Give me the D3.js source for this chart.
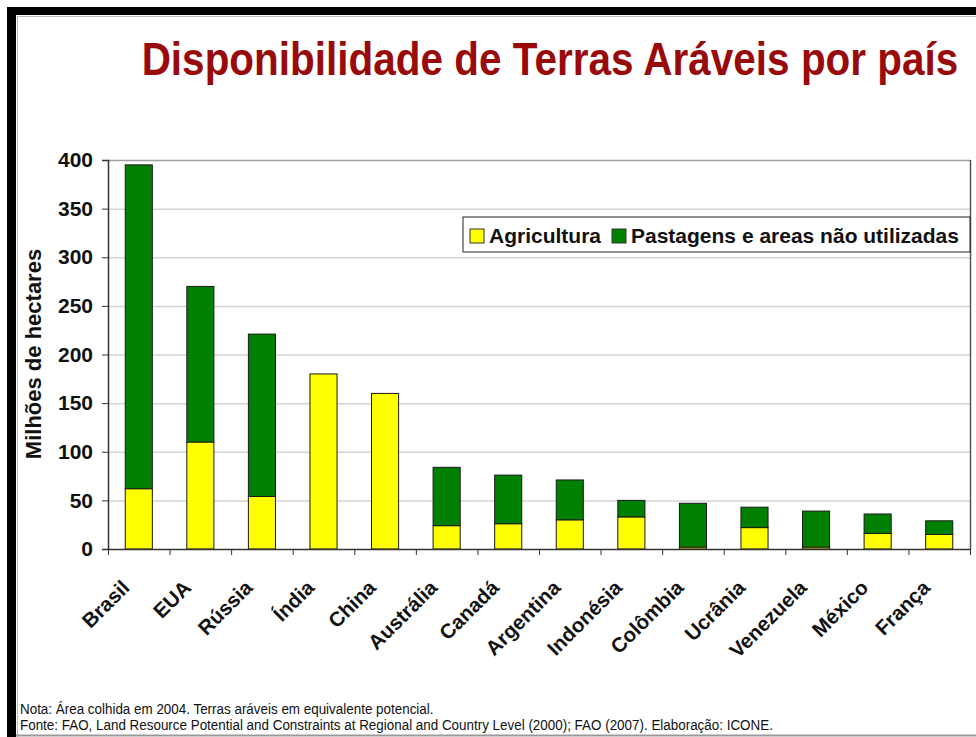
<!DOCTYPE html>
<html>
<head>
<meta charset="utf-8">
<script src="https://cdn.jsdelivr.net/npm/d3@7"></script>
<style>
  body { margin: 0; background: #fff; }
  svg { display: block; }
</style>
</head>
<body>
<div id="viz"></div>
<script>
const categories = ["Brasil", "EUA", "Rússia", "Índia", "China", "Austrália", "Canadá",
  "Argentina", "Indonésia", "Colômbia", "Ucrânia", "Venezuela", "México", "França"];
const agricultura = [62, 110, 54, 180, 160, 24, 26, 30, 33, 2, 22, 2, 16, 15];
const pastagens = [333, 160, 167, 0, 0, 60, 50, 41, 17, 45, 21, 37, 20, 14];
const seriesNames = ["Agricultura", "Pastagens e areas não utilizadas"];
const seriesColors = ["#ffff00", "#008000"];
const yTicks = [0, 50, 100, 150, 200, 250, 300, 350, 400];

const W = 976, H = 737;
const plot = { left: 108, right: 970, top: 160, bottom: 549 };
const font = "Liberation Sans, Arial, sans-serif";

const svg = d3.select("#viz").append("svg")
  .attr("width", W)
  .attr("height", H);

// frame of the slide
svg.append("rect").attr("x", 7).attr("y", 7).attr("width", W - 7).attr("height", 8).attr("fill", "#000");
svg.append("rect").attr("x", 7).attr("y", 7).attr("width", 9).attr("height", H - 7).attr("fill", "#000");
svg.append("line").attr("x1", 17).attr("x2", W).attr("y1", 16.5).attr("y2", 16.5).attr("stroke", "#bbb");
svg.append("line").attr("x1", 17.5).attr("x2", 17.5).attr("y1", 16).attr("y2", H).attr("stroke", "#bbb");
svg.append("line").attr("x1", 16).attr("x2", W).attr("y1", 735.5).attr("y2", 735.5).attr("stroke", "#999").attr("stroke-width", 2);

// title
svg.append("text")
  .attr("transform", "translate(550,75) scale(1,1.12)")
  .attr("text-anchor", "middle")
  .style("font-family", font)
  .style("font-size", "40.5px")
  .style("font-weight", "bold")
  .style("fill", "#990b0b")
  .text("Disponibilidade de Terras Aráveis por país");

const x = d3.scaleBand()
  .domain(categories)
  .range([plot.left, plot.right])
  .paddingInner(0.56)
  .paddingOuter(0.28);

const y = d3.scaleLinear()
  .domain([0, 400])
  .range([plot.bottom, plot.top]);

// gridlines
svg.append("g")
  .selectAll("line")
  .data(yTicks.slice(1))
  .join("line")
    .attr("x1", plot.left)
    .attr("x2", plot.right)
    .attr("y1", d => y(d) + 0.5)
    .attr("y2", d => y(d) + 0.5)
    .attr("stroke", d => d === 400 ? "#a0a0a0" : "#d4d4d4")
    .attr("stroke-width", 1.5);

// right border of plot
svg.append("line")
  .attr("x1", plot.right + 0.5).attr("x2", plot.right + 0.5)
  .attr("y1", plot.top).attr("y2", plot.bottom)
  .attr("stroke", "#555").attr("stroke-width", 1.5);

// stacked bars
const table = categories.map((c, i) => ({ pais: c, agr: agricultura[i], past: pastagens[i] }));
const stack = d3.stack().keys(["agr", "past"])(table);

svg.append("g")
  .selectAll("g")
  .data(stack)
  .join("g")
    .attr("fill", (d, i) => seriesColors[i])
  .selectAll("rect")
  .data(d => d.filter(s => s[1] - s[0] > 0))
  .join("rect")
    .attr("x", d => x(d.data.pais))
    .attr("y", d => y(d[1]))
    .attr("width", x.bandwidth())
    .attr("height", d => y(d[0]) - y(d[1]))
    .attr("stroke", "#1a1a1a")
    .attr("stroke-width", 1);

// y axis
const yAxis = svg.append("g")
  .attr("transform", `translate(${plot.left},0)`)
  .call(d3.axisLeft(y).tickValues(yTicks).tickSize(6).tickPadding(9));
yAxis.select(".domain").attr("stroke", "#333").attr("stroke-width", 1.5);
yAxis.selectAll(".tick line").attr("stroke", "#333");
yAxis.selectAll("text")
  .style("font-family", font)
  .style("font-size", "21px")
  .style("font-weight", "bold")
  .style("fill", "#111");

svg.append("text")
  .attr("transform", "translate(41,354) rotate(-90)")
  .attr("text-anchor", "middle")
  .style("font-family", font)
  .style("font-size", "22px")
  .style("font-weight", "bold")
  .style("fill", "#111")
  .text("Milhões de hectares");

// x axis: ticks between categories
const step = x.step();
svg.append("line")
  .attr("x1", plot.left).attr("x2", plot.right + 1)
  .attr("y1", plot.bottom + 0.5).attr("y2", plot.bottom + 0.5)
  .attr("stroke", "#333").attr("stroke-width", 1.5);
svg.append("g")
  .selectAll("line")
  .data(d3.range(categories.length + 1))
  .join("line")
    .attr("x1", i => plot.left + i * step + 0.5)
    .attr("x2", i => plot.left + i * step + 0.5)
    .attr("y1", plot.bottom)
    .attr("y2", plot.bottom + 6)
    .attr("stroke", "#333");

svg.append("g")
  .selectAll("text")
  .data(categories)
  .join("text")
    .attr("transform", d => `translate(${x(d) + x.bandwidth() / 2 - 8},${plot.bottom + 40}) rotate(-45)`)
    .attr("text-anchor", "end")
    .style("font-family", font)
    .style("font-size", "20.5px")
    .style("font-weight", "bold")
    .style("fill", "#111")
    .text(d => d);

// legend
const legend = svg.append("g").attr("transform", "translate(463,217)");
legend.append("rect")
  .attr("width", plot.right - 463)
  .attr("height", 35)
  .attr("fill", "#fff")
  .attr("stroke", "#222");
const legendX = [7, 149];
seriesNames.forEach((name, i) => {
  legend.append("rect")
    .attr("x", legendX[i]).attr("y", 12)
    .attr("width", 14).attr("height", 14)
    .attr("fill", seriesColors[i])
    .attr("stroke", "#333");
  legend.append("text")
    .attr("x", legendX[i] + 19)
    .attr("y", 26)
    .style("font-family", font)
    .style("font-size", "21px")
    .style("font-weight", "bold")
    .style("fill", "#111")
    .text(name);
});

// footer notes
const notes = [
  "Nota: Área colhida em 2004. Terras aráveis em equivalente potencial.",
  "Fonte: FAO, Land Resource Potential and Constraints at Regional and Country Level (2000); FAO (2007). Elaboração: ICONE."
];
svg.append("g")
  .selectAll("text")
  .data(notes)
  .join("text")
    .attr("transform", (d, i) => `translate(20,${714 + i * 16}) scale(0.895,1)`)
    .style("font-family", font)
    .style("font-size", "15px")
    .style("fill", "#111")
    .text(d => d);
</script>
</body>
</html>
